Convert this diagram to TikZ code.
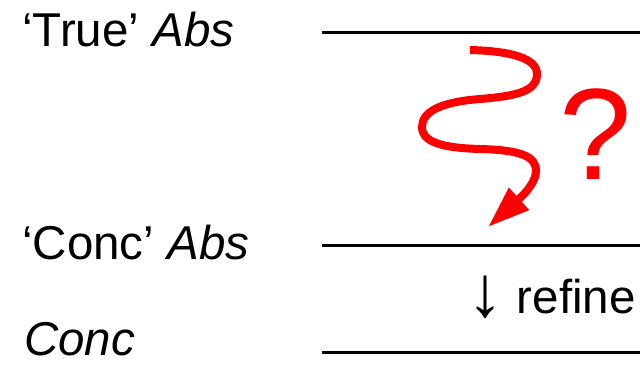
\documentclass[tikz,border=0pt]{standalone}
\usepackage{fontspec}
\setmainfont{Liberation Sans}
\usetikzlibrary{arrows.meta}
\begin{document}
\begin{tikzpicture}[x=1pt,y=-1pt,
  lbl/.style={font=\fontsize{47.5}{50}\selectfont, inner sep=0pt, anchor=base west},
  level/.style={line width=3pt},
  squiggle/.style={red, line width=8pt, -{Triangle[length=42pt,width=28pt]}}]
\useasboundingbox (0,0) rectangle (640,368);
\node[lbl] (tabs) at (22,46) {`True' \textit{Abs}};
\node[lbl] (cabs) at (22,259) {`Conc' \textit{Abs}};
\node[lbl] (conc) at (24,355) {\textit{Conc}};
\coordinate (t1) at (322,32.5); \coordinate (t2) at (640,32.5);
\coordinate (m1) at (322,245); \coordinate (m2) at (640,245);
\coordinate (b1) at (322,352.5); \coordinate (b2) at (640,352.5);
\draw[level] (t1) -- (t2);
\draw[level] (m1) -- (m2);
\draw[level] (b1) -- (b2);
\node[lbl, anchor=base east] (ref) at (636,313) {{\fontsize{72}{72}\selectfont\raisebox{-3pt}{↓}} refine};
\node[font=\fontsize{130}{130}\selectfont, text=red, inner sep=0pt, anchor=base] (q) at (596,179) {?};
\coordinate (s0) at (470,50);
\coordinate (tip) at (488,227);
\draw[squiggle] (s0) .. controls (510,51) and (538,58) .. (537,75)
  .. controls (536,92) and (515,96) .. (480,99)
  .. controls (440,102) and (422,112) .. (422,127)
  .. controls (422,143) and (445,148) .. (480,149)
  .. controls (520,150) and (537,156) .. (536,172)
  .. controls (535,185) and (520,198) .. (tip);
\end{tikzpicture}
\end{document}
